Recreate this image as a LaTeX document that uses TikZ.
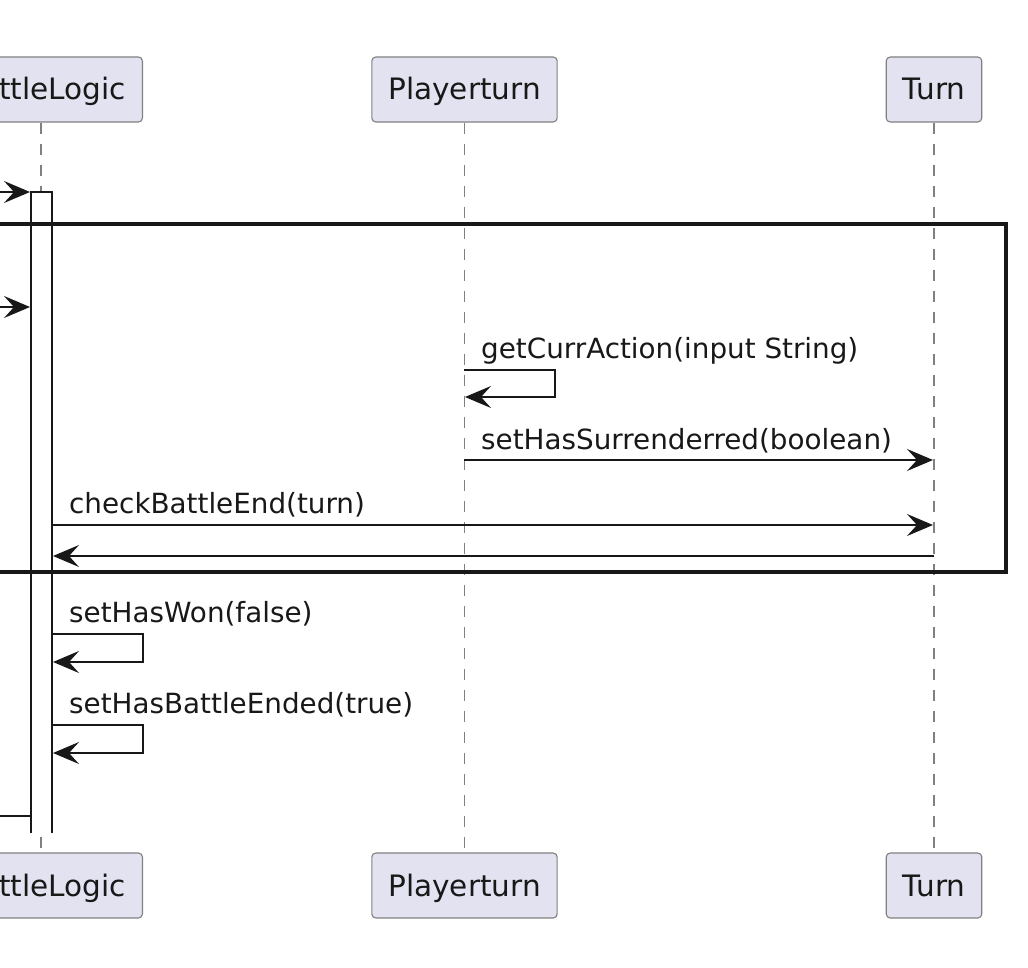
\documentclass[tikz,border=0pt]{standalone}
\usepackage{fontspec}
\setmainfont{DejaVu Sans}
\usetikzlibrary{arrows.meta}
\definecolor{pfill}{HTML}{E2E2F0}
\definecolor{ink}{HTML}{181818}
\definecolor{pborder}{HTML}{808080}
\begin{document}
\begin{tikzpicture}[x=1pt,y=-1pt,
  part/.style={draw=pborder, fill=pfill, rounded corners=4pt, line width=1.1pt, minimum height=65pt, inner xsep=16.5pt, inner ysep=0pt, text height=27pt, text depth=6pt, font=\fontsize{29.5}{34}\selectfont, text=ink},
  life/.style={draw=pborder, line width=1.1pt, dash pattern=on 11pt off 10pt},
  msg/.style={draw=ink, line width=1.3pt, -{Stealth[length=26pt,width=22pt,inset=10pt]}},
  plain/.style={draw=ink, line width=1.3pt},
  lbl/.style={anchor=base west, inner sep=0pt, font=\fontsize{27.8}{32}\selectfont, text=ink},
  actbar/.style={draw=ink, fill=white, line width=1.3pt},
  frame/.style={draw=ink, line width=3.2pt}]
\useasboundingbox (0,0) rectangle (1028,968);
\clip (0,0) rectangle (1028,968);
% participants
\node[part, anchor=east] (blT) at (143,89.5) {BattleLogic};
\node[part] (ptT) at (464.5,89.5) {Playerturn};
\node[part] (tuT) at (934,89.5) {Turn};
\node[part, anchor=east] (blB) at (143,885.5) {BattleLogic};
\node[part] (ptB) at (464.5,885.5) {Playerturn};
\node[part] (tuB) at (934,885.5) {Turn};
% lifelines
\coordinate (blx) at (41,0);
\draw[life] (blx |- blT.south) -- (blx |- blB.north);
\draw[life] (ptT.south) -- (ptB.north);
\draw[life] (tuT.south) -- (tuB.north);
% activation bar
\coordinate (actA) at (31,833);
\coordinate (actB) at (31,192);
\coordinate (actC) at (52,192);
\coordinate (actD) at (52,833);
\path[actbar] (actA) -- (actB) -- (actC) -- (actD);
% incoming messages from the left
\coordinate (in1) at (-20,192); \coordinate (act1) at (30,192);
\draw[msg] (in1) -- (act1);
\coordinate (in2) at (-20,307); \coordinate (act2) at (30,307);
\draw[msg] (in2) -- (act2);
% getCurrAction self message
\coordinate (gs) at (464,370); \coordinate (ge) at (465,397);
\draw[msg] (gs) -- ++(91,0) -- ++(0,27) -- (ge);
\node[lbl] (lgca) at (481,358) {getCurrAction(input String)};
% setHasSurrenderred
\coordinate (ss) at (464,460); \coordinate (se) at (933,460);
\draw[msg] (ss) -- (se);
\node[lbl] (lshs) at (481,449) {setHasSurrenderred(boolean)};
% checkBattleEnd
\coordinate (cs) at (52,525); \coordinate (ce) at (933,525);
\draw[msg] (cs) -- (ce);
\node[lbl] (lcbe) at (69,513.5) {checkBattleEnd(turn)};
% return
\coordinate (rs) at (934,556); \coordinate (re) at (53,556);
\draw[msg] (rs) -- (re);
% setHasWon self message
\coordinate (ws) at (52,634); \coordinate (we) at (53,662);
\draw[msg] (ws) -- ++(91,0) -- ++(0,28) -- (we);
\node[lbl] (lshw) at (69,622) {setHasWon(false)};
% setHasBattleEnded self message
\coordinate (bs) at (52,725); \coordinate (be) at (53,753);
\draw[msg] (bs) -- ++(91,0) -- ++(0,28) -- (be);
\node[lbl] (lshb) at (69,713) {setHasBattleEnded(true)};
% final return to the left
\coordinate (fs) at (31,816); \coordinate (fe) at (-20,816);
\draw[plain] (fs) -- (fe);
% group frame
\coordinate (frA) at (-20,224); \coordinate (frB) at (1006,572);
\draw[frame] (frA) rectangle (frB);
\end{tikzpicture}
\end{document}
